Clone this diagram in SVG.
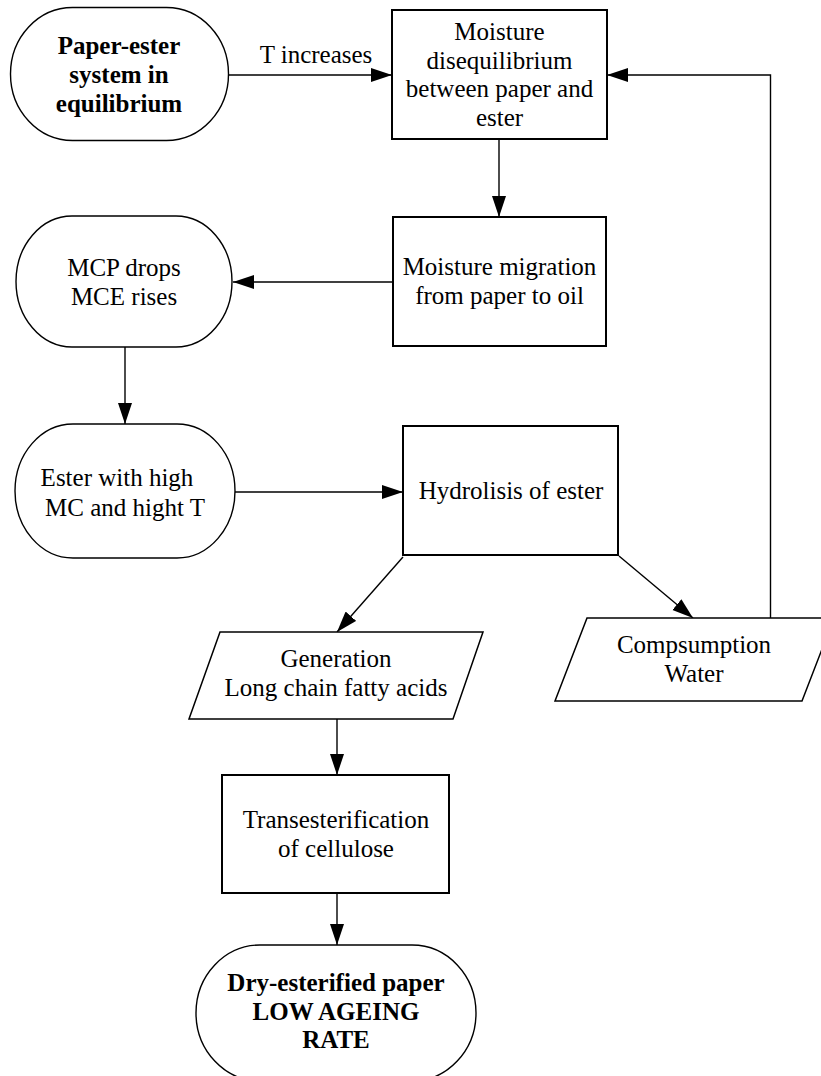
<svg xmlns="http://www.w3.org/2000/svg" width="821" height="1076" viewBox="0 0 821 1076">
<defs>
<marker id="arr" markerUnits="userSpaceOnUse" markerWidth="22" markerHeight="16" refX="21" refY="7" orient="auto">
<path d="M0,0 L21,7 L0,14 z" fill="#000"/>
</marker>
<style>
.box{fill:#fff;stroke:#000;stroke-width:2}
.term{fill:#fff;stroke:#000;stroke-width:1.4}
.para{fill:#fff;stroke:#000;stroke-width:1.5}
.t{font-family:"Liberation Serif","Times New Roman",serif;font-size:25px;fill:#000;text-anchor:middle}
.b{font-weight:bold}
.c{fill:none;stroke:#000;stroke-width:1.4;marker-end:url(#arr)}
</style>
</defs>
<rect width="821" height="1076" fill="#fff"/>
<g id="connectors">
<line class="c" x1="229" y1="75" x2="392" y2="75"/>
<polyline class="c" points="770.5,618 770.5,75 607,75"/>
<line class="c" x1="499" y1="139" x2="499" y2="217"/>
<line class="c" x1="393" y1="282" x2="233" y2="282"/>
<line class="c" x1="125" y1="347" x2="125" y2="424"/>
<line class="c" x1="235" y1="492" x2="403" y2="492"/>
<line class="c" x1="403" y1="557" x2="337" y2="632"/>
<line class="c" x1="619" y1="556" x2="693" y2="618"/>
<line class="c" x1="337" y1="719" x2="337" y2="775"/>
<line class="c" x1="337" y1="893" x2="337" y2="945"/>
<text class="t" x="316" y="63">T increases</text>
</g>
<g id="n-paper-ester">
<rect class="term" x="10.5" y="7.5" width="218" height="133" rx="62" ry="66.5"/>
<text class="t b" x="119" y="54">Paper-ester</text>
<text class="t b" x="119" y="83">system in</text>
<text class="t b" x="119" y="112">equilibrium</text>
</g>
<g id="n-disequilibrium">
<rect class="box" x="392" y="10" width="215" height="129"/>
<text class="t" x="499.5" y="40">Moisture</text>
<text class="t" x="499.5" y="68.5">disequilibrium</text>
<text class="t" x="499.5" y="97">between paper and</text>
<text class="t" x="499.5" y="126">ester</text>
</g>
<g id="n-migration">
<rect class="box" x="393" y="217" width="213" height="129"/>
<text class="t" x="499.5" y="275">Moisture migration</text>
<text class="t" x="499.5" y="304">from paper to oil</text>
</g>
<g id="n-mcp">
<rect class="term" x="16" y="216" width="216" height="131" rx="56" ry="65.5"/>
<text class="t" x="124" y="276">MCP drops</text>
<text class="t" x="124" y="305">MCE rises</text>
</g>
<g id="n-ester">
<rect class="term" x="15" y="424" width="220" height="134" rx="58" ry="67"/>
<text class="t" x="117" y="486">Ester with high</text>
<text class="t" x="125" y="516">MC and hight T</text>
</g>
<g id="n-hydrolisis">
<rect class="box" x="403" y="426" width="215" height="129"/>
<text class="t" x="511" y="499">Hydrolisis of ester</text>
</g>
<g id="n-generation">
<polygon class="para" points="220,632 483,632 453,719 189,719"/>
<text class="t" x="336" y="667">Generation</text>
<text class="t" x="336" y="696">Long chain fatty acids</text>
</g>
<g id="n-compsumption">
<polygon class="para" points="587,618 834,618 802,701 555,701"/>
<text class="t" x="694" y="653">Compsumption</text>
<text class="t" x="694" y="682">Water</text>
</g>
<g id="n-transesterification">
<rect class="box" x="222" y="775" width="227" height="118"/>
<text class="t" x="336" y="828">Transesterification</text>
<text class="t" x="336" y="857">of cellulose</text>
</g>
<g id="n-dry">
<rect class="term" x="196" y="945" width="280" height="136" rx="64" ry="68"/>
<text class="t b" x="336" y="991">Dry-esterified paper</text>
<text class="t b" x="336" y="1020">LOW AGEING</text>
<text class="t b" x="336" y="1048">RATE</text>
</g>
</svg>
